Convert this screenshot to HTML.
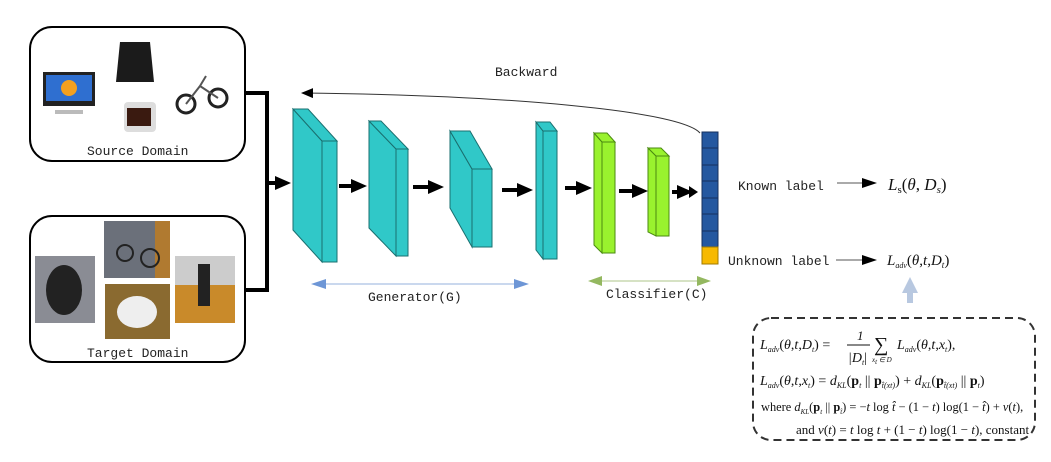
<!DOCTYPE html>
<html><head><meta charset="utf-8"><style>
body{margin:0;background:#fff}
svg{display:block}
.m{font-family:"Liberation Mono",monospace;font-size:13px;fill:#222}
.s{font-family:"Liberation Serif",serif;font-style:italic;fill:#111}
.r{font-family:"Liberation Serif",serif;fill:#111}
</style></head><body>
<svg width="1051" height="462" viewBox="0 0 1051 462" xmlns="http://www.w3.org/2000/svg">
<defs>
<marker id="bk" markerWidth="12" markerHeight="10" refX="11" refY="5" orient="auto" markerUnits="userSpaceOnUse"><path d="M0,0L12,5L0,10z" fill="#000"/></marker>
<marker id="bl" markerWidth="16" markerHeight="14" refX="1" refY="7" orient="auto" markerUnits="userSpaceOnUse"><path d="M0,0L16,7L0,14z" fill="#000"/></marker>
</defs>
<!-- source box -->
<rect x="30" y="27" width="215" height="134" rx="22" fill="none" stroke="#000" stroke-width="2"/>
<rect x="43" y="72" width="52" height="34" fill="#222"/><rect x="46" y="75" width="46" height="26" fill="#2f6fd0"/><circle cx="69" cy="88" r="8" fill="#f4a020"/><rect x="55" y="110" width="28" height="4" fill="#bbb"/>
<path d="M120,42h30l4,40h-38z" fill="#1b1b1b"/>
<rect x="124" y="102" width="32" height="30" rx="4" fill="#ddd"/><rect x="127" y="108" width="24" height="18" fill="#3a1a10"/>
<circle cx="186" cy="104" r="9" fill="none" stroke="#222" stroke-width="3"/><circle cx="218" cy="98" r="9" fill="none" stroke="#222" stroke-width="3"/><path d="M186,104L200,86L218,98M200,86L206,76" stroke="#555" stroke-width="2" fill="none"/>
<text x="87" y="155" class="m">Source Domain</text>
<!-- target box -->
<rect x="30" y="216" width="215" height="146" rx="22" fill="none" stroke="#000" stroke-width="2"/>
<rect x="35" y="256" width="60" height="67" fill="#8a8c94"/><ellipse cx="64" cy="290" rx="18" ry="25" fill="#222"/>
<rect x="104" y="221" width="66" height="57" fill="#6b707a"/><rect x="155" y="221" width="15" height="57" fill="#b07a30"/><circle cx="125" cy="253" r="8" fill="none" stroke="#222" stroke-width="2"/><circle cx="150" cy="258" r="9" fill="none" stroke="#222" stroke-width="2"/>
<rect x="105" y="284" width="65" height="55" fill="#8a6a30"/><ellipse cx="137" cy="312" rx="20" ry="16" fill="#eee"/>
<rect x="175" y="256" width="60" height="67" fill="#ccc"/><rect x="175" y="285" width="60" height="38" fill="#c98a2a"/><rect x="198" y="264" width="12" height="42" fill="#222"/>
<text x="87" y="357" class="m">Target Domain</text>
<!-- connector -->
<path d="M245,93H267V290H245" fill="none" stroke="#000" stroke-width="4"/>
<line x1="267" y1="183" x2="276" y2="183" stroke="#000" stroke-width="4" marker-end="url(#bl)"/>
<!-- blocks -->
<g stroke="#1a6f6f" stroke-width="1" fill="#30c8c8">
<path d="M293,109L322,141V262L293,230z"/><path d="M293,109H308L337,141H322z"/><rect x="322" y="141" width="15" height="121"/>
<path d="M369,121L396,149V256L369,228z"/><path d="M369,121H381L408,149H396z"/><rect x="396" y="149" width="12" height="107"/>
<path d="M450,131L472,169V247L450,208z"/><path d="M450,131H470L492,169H472z"/><rect x="472" y="169" width="20" height="78"/>
<path d="M536,122L543,131V259L536,250z"/><path d="M536,122H550L557,131H543z"/><rect x="543" y="131" width="14" height="128"/>
</g>
<g stroke="#4a8a10" stroke-width="1" fill="#99f22e">
<path d="M594,133L602,142V253L594,245z"/><path d="M594,133H607L615,142H602z"/><rect x="602" y="142" width="13" height="111"/>
<path d="M648,148L656,156V236L648,232z"/><path d="M648,148H661L669,156H656z"/><rect x="656" y="156" width="13" height="80"/>
</g>
<!-- column -->
<g stroke="#16305e" stroke-width="1">
<rect x="702" y="132" width="16" height="115" fill="#2458a0"/>
<line x1="702" y1="148" x2="718" y2="148"/><line x1="702" y1="165" x2="718" y2="165"/><line x1="702" y1="181" x2="718" y2="181"/><line x1="702" y1="198" x2="718" y2="198"/><line x1="702" y1="214" x2="718" y2="214"/><line x1="702" y1="231" x2="718" y2="231"/>
</g>
<rect x="702" y="247" width="16" height="17" fill="#f7b900" stroke="#a07a00"/>
<!-- black arrows -->
<g stroke="#000" stroke-width="4" marker-end="url(#bl)">
<line x1="339" y1="186" x2="352" y2="186"/><line x1="413" y1="187" x2="429" y2="187"/><line x1="502" y1="190" x2="518" y2="190"/><line x1="565" y1="188" x2="577" y2="188"/><line x1="619" y1="191" x2="633" y2="191"/><line x1="672" y1="192" x2="678" y2="192"/>
</g>
<path d="M689,186L698,192L689,198z" fill="#000"/>
<!-- backward -->
<path d="M700,133C680,110 500,95 302,93" fill="none" stroke="#333" stroke-width="1" marker-end="url(#bk)"/>
<text x="495" y="76" class="m">Backward</text>
<!-- generator / classifier -->
<line x1="325" y1="284" x2="517" y2="284" stroke="#b8cbe8" stroke-width="1.5"/>
<path d="M311,284L326,279V289z M529,284L514,279V289z" fill="#6d96d6"/>
<text x="368" y="301" class="m">Generator(G)</text>
<line x1="600" y1="281" x2="700" y2="281" stroke="#c8d8b0" stroke-width="1.5"/>
<path d="M588,281L602,276V286z M711,281L697,276V286z" fill="#94b860"/>
<text x="606" y="298" class="m">Classifier(C)</text>
<!-- labels -->
<text x="738" y="190" class="m">Known label</text>
<line x1="837" y1="183" x2="862" y2="183" stroke="#555" stroke-width="1"/><path d="M862,178L877,183L862,188z" fill="#000"/>
<text x="888" y="190" class="s" font-size="17">L<tspan font-size="11" dy="3" font-style="normal">s</tspan><tspan dy="-3" font-style="normal">(</tspan>θ<tspan font-style="normal">, </tspan>D<tspan font-size="11" dy="3">s</tspan><tspan dy="-3" font-style="normal">)</tspan></text>
<text x="728" y="265" class="m">Unknown label</text>
<line x1="836" y1="260" x2="862" y2="260" stroke="#555" stroke-width="1"/><path d="M862,255L877,260L862,265z" fill="#000"/>
<text x="887" y="265" class="s" font-size="15">L<tspan font-size="8" dy="3">adv</tspan><tspan dy="-3" font-style="normal">(</tspan>θ<tspan font-style="normal">,</tspan>t<tspan font-style="normal">,</tspan>D<tspan font-size="9" dy="3">t</tspan><tspan dy="-3" font-style="normal">)</tspan></text>
<path d="M910,277L918,293H913V303H907V293H902z" fill="#b8c8e0"/>
<!-- dashed box -->
<rect x="753" y="318" width="282" height="122" rx="18" fill="none" stroke="#333" stroke-width="2" stroke-dasharray="8,5"/>
<g class="s" font-size="14">
<text x="760" y="349">L<tspan font-size="8" dy="3">adv</tspan><tspan dy="-3" font-style="normal">(</tspan>θ<tspan font-style="normal">,</tspan>t<tspan font-style="normal">,</tspan>D<tspan font-size="8" dy="3">t</tspan><tspan dy="-3" font-style="normal">) = </tspan></text>
<text x="857" y="340" class="r" font-size="13">1</text>
<line x1="847" y1="345" x2="870" y2="345" stroke="#111" stroke-width="1"/>
<text x="848" y="362">|D<tspan font-size="8" dy="3">t</tspan><tspan dy="-3" font-style="normal">|</tspan></text>
<text x="874" y="351" class="r" font-size="20">∑</text>
<text x="872" y="362" font-size="7">x<tspan dy="2">t</tspan><tspan dy="-2"> ∈ D</tspan></text>
<text x="897" y="349">L<tspan font-size="8" dy="3">adv</tspan><tspan dy="-3" font-style="normal">(</tspan>θ<tspan font-style="normal">,</tspan>t<tspan font-style="normal">,</tspan>x<tspan font-size="8" dy="3">t</tspan><tspan dy="-3" font-style="normal">),</tspan></text>
<text x="760" y="385">L<tspan font-size="8" dy="3">adv</tspan><tspan dy="-3" font-style="normal">(</tspan>θ<tspan font-style="normal">,</tspan>t<tspan font-style="normal">,</tspan>x<tspan font-size="8" dy="3">t</tspan><tspan dy="-3" font-style="normal">) = </tspan>d<tspan font-size="8" dy="3">KL</tspan><tspan dy="-3" font-style="normal">(</tspan><tspan font-weight="bold" font-style="normal">p</tspan><tspan font-size="8" dy="3">t</tspan><tspan dy="-3" font-style="normal"> || </tspan><tspan font-weight="bold" font-style="normal">p</tspan><tspan font-size="8" dy="3">t̂(xt)</tspan><tspan dy="-3" font-style="normal">) + </tspan>d<tspan font-size="8" dy="3">KL</tspan><tspan dy="-3" font-style="normal">(</tspan><tspan font-weight="bold" font-style="normal">p</tspan><tspan font-size="8" dy="3">t̂(xt)</tspan><tspan dy="-3" font-style="normal"> || </tspan><tspan font-weight="bold" font-style="normal">p</tspan><tspan font-size="8" dy="3">t</tspan><tspan dy="-3" font-style="normal">)</tspan></text>
<text x="761" y="411" font-size="12.4"><tspan font-style="normal">where </tspan>d<tspan font-size="7" dy="3">KL</tspan><tspan dy="-3" font-style="normal">(</tspan><tspan font-weight="bold" font-style="normal">p</tspan><tspan font-size="7" dy="3">t</tspan><tspan dy="-3" font-style="normal"> || </tspan><tspan font-weight="bold" font-style="normal">p</tspan><tspan font-size="7" dy="3">t̂</tspan><tspan dy="-3" font-style="normal">) = −</tspan>t<tspan font-style="normal"> log </tspan>t̂<tspan font-style="normal"> − (1 − </tspan>t<tspan font-style="normal">) log(1 − </tspan>t̂<tspan font-style="normal">) + </tspan>v<tspan font-style="normal">(</tspan>t<tspan font-style="normal">),</tspan></text>
<text x="796" y="434" font-size="13"><tspan font-style="normal">and </tspan>v<tspan font-style="normal">(</tspan>t<tspan font-style="normal">) = </tspan>t<tspan font-style="normal"> log </tspan>t<tspan font-style="normal"> + (1 − </tspan>t<tspan font-style="normal">) log(1 − </tspan>t<tspan font-style="normal">), constant</tspan></text>
</g>
</svg>
</body></html>
